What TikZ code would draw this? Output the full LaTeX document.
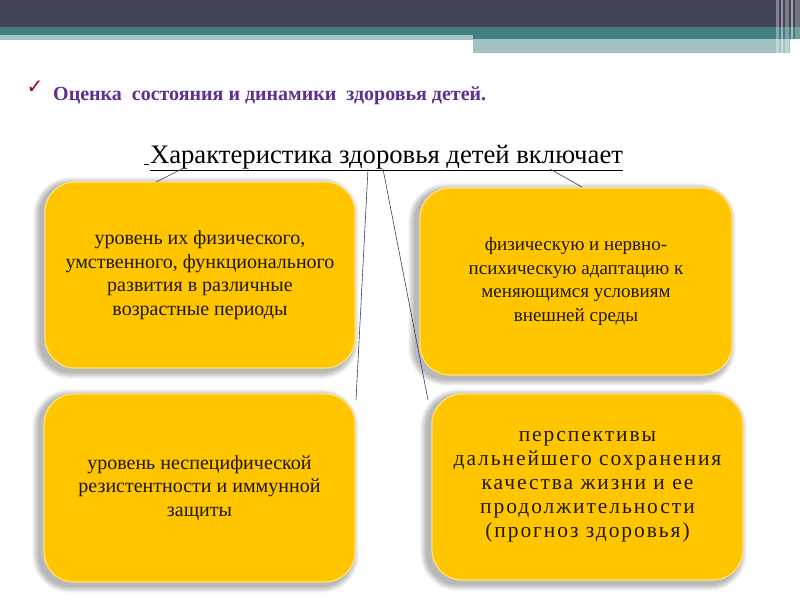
\documentclass[tikz,border=0pt]{standalone}
\usepackage{fontspec}
\setmainfont{Liberation Serif}
\newfontfamily\symfont{DejaVu Sans}
\newfontfamily\spacedfont[LetterSpace=9]{Liberation Serif}
\usetikzlibrary{calc}
\pgfdeclarelayer{background}
\pgfsetlayers{background,main}
\definecolor{darkbar}{HTML}{434357}
\definecolor{tealbar}{HTML}{447F80}
\definecolor{lightteal}{HTML}{A3C3C6}
\definecolor{boxfill}{HTML}{FFC600}
\definecolor{boxrim}{HTML}{FFE27A}
\definecolor{headpurple}{HTML}{5E2E92}
\definecolor{checkred}{HTML}{990022}
\definecolor{linkcol}{HTML}{3E3E66}
\definecolor{boxtext}{HTML}{1E1800}
\tikzset{
  infobox/.style={draw=boxrim, line width=1.2pt, fill=boxfill, rounded corners=30pt,
    minimum width=310pt, minimum height=186pt, align=center, text=boxtext,
    font=\fontsize{20}{23.5}\selectfont},
  shadowlayer/.style={fill=black, opacity=0.045},
  link/.style={draw=linkcol, line width=0.6pt}
}
\begin{document}
\begin{tikzpicture}[x=1pt,y=-1pt]
\useasboundingbox (0,0) rectangle (800,600);
% top decoration
\fill[darkbar] (0,0) rectangle (800,27);
\fill[tealbar] (0,27) rectangle (800,35);
\fill[tealbar] (473,35) rectangle (800,39);
\fill[lightteal] (0,35) rectangle (473,40);
\fill[lightteal] (473,39) rectangle (790,53);
\foreach \xx/\ww/\oo in {776/3/0.35,781/2/0.45,785/4/0.3,791/2/0.5,795/5/0.25}
  \fill[white, opacity=\oo] (\xx,0) rectangle (\xx+\ww,53);
% header
\node[anchor=base, text=checkred, font=\symfont\bfseries\fontsize{20}{20}\selectfont] (chk) at (35,93) {✓};
\node[anchor=base west, inner sep=0pt, text=headpurple, font=\bfseries\fontsize{20}{22}\selectfont] (head) at (53,100) {Оценка\ \ состояния и динамики\ \ здоровья детей.};
% title
\node[anchor=base, inner sep=0pt, font=\fontsize{26.7}{28}\selectfont] (title) at (383.5,163) {\underline{\kern5pt}\kern1pt\underline{Характеристика здоровья детей включает}};
% boxes
\node[infobox] (b1) at (200,275) {уровень их физического,\\умственного, функционального\\развития в различные\\возрастные периоды};
\node[infobox, minimum width=312pt, minimum height=187pt, font=\fontsize{19}{23.5}\selectfont] (b2) at (576,281.5) {физическую и нервно-\\психическую адаптацию к\\меняющимся условиям\\внешней среды};
\node[infobox, minimum width=311pt, minimum height=188pt] (b3) at (199.5,488) {уровень неспецифической\\резистентности и иммунной\\защиты};
\node[infobox, minimum width=311pt, font=\spacedfont\fontsize{21.5}{24}\selectfont] (b4) at (587.5,487) {перспективы\\дальнейшего сохранения\\качества жизни и ее\\продолжительности\\(прогноз здоровья)};
% soft shadows
\begin{pgfonlayer}{background}
\fill[white] (0,60) rectangle (800,600);
\foreach \b in {b1,b2,b3,b4}{
  \foreach \i in {1,...,7}{
    \fill[shadowlayer, rounded corners=30pt+\i pt]
      ($(\b.north west)+(-4-\i,3-\i)$) rectangle ($(\b.south east)+(-4+\i,3+\i)$);
  }
}
\end{pgfonlayer}
% connectors
\coordinate (s1) at (182,169);
\coordinate (e1) at (156,182);
\coordinate (s2) at (368,169);
\coordinate (e2) at (356,400);
\coordinate (s3) at (383,169);
\coordinate (e3) at (428,400);
\coordinate (s4) at (550,169);
\coordinate (e4) at (582,187);
\draw[link] (s1) -- (e1);
\draw[link] (s2) -- (e2);
\draw[link] (s3) -- (e3);
\draw[link] (s4) -- (e4);
\end{tikzpicture}
\end{document}
